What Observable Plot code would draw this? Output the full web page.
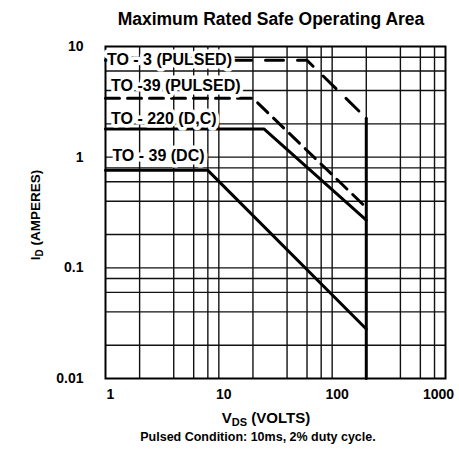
<!DOCTYPE html>
<html><head><meta charset="utf-8">
<script src="https://cdn.jsdelivr.net/npm/d3@7"></script>
<script src="https://cdn.jsdelivr.net/npm/@observablehq/plot@0.6"></script>
<style>body{margin:0;background:#fff} svg{display:block}</style>
</head><body><div id="chart"></div>
<script>
const xTicks = [1, 10, 100];
const xTickLast = [1000];
const yTicks = [0.01, 0.1, 1, 10];
const xGrid = [2, 4, 6, 8, 10, 20, 40, 60, 80, 100, 200, 400, 600, 800];
const yGrid = [0.02, 0.04, 0.06, 0.08, 0.1, 0.2, 0.4, 0.6, 0.8, 1, 2, 4, 6, 8];
const to3Pulsed = [[1, 7.5], [60, 7.5], [200, 2.25]];
const to39Pulsed = [[1, 3.4], [20, 3.4], [200, 0.35]];
const to220DC = [[1, 1.8], [25, 1.8], [200, 0.27]];
const to39DC = [[1, 0.76], [8, 0.76], [200, 0.028]];
const limit200V = [[200, 2.25], [200, 0.01]];
const labelText = ["TO - 3 (PULSED)", "TO -39 (PULSED)", "TO - 220 (D,C)", "TO - 39 (DC)"];
const labelV = [1.03, 1.12, 1.12, 1.15];
const labelI = [7.5, 4.4, 2.2, 1.03];

const FONT = "'Liberation Sans', Arial, Helvetica, sans-serif";
const X = d => d[0], Y = d => d[1];

const plot = Plot.plot({
  width: 459, height: 453,
  marginLeft: 105, marginRight: 14, marginTop: 46, marginBottom: 75,
  style: {fontFamily: FONT, background: "#fff", color: "#000"},
  x: {type: "log", domain: [1, 1000]},
  y: {type: "log", domain: [0.01, 10]},
  marks: [
    Plot.ruleX(xGrid, {stroke: "#111", strokeWidth: 1.4}),
    Plot.ruleY(yGrid, {stroke: "#111", strokeWidth: 1.4}),
    Plot.frame({stroke: "#000", strokeWidth: 2}),
    Plot.axisX(xTicks, {tickSize: 0, tickPadding: 11, dx: 5, fontSize: 14, fontWeight: "bold", label: null, tickFormat: d => String(d)}),
    Plot.axisX(xTickLast, {tickSize: 0, tickPadding: 11, dx: -7, fontSize: 14, fontWeight: "bold", label: null, tickFormat: d => String(d)}),
    Plot.axisY(yTicks, {tickSize: 0, tickPadding: 22, fontSize: 14, fontWeight: "bold", label: null, tickFormat: d => String(d)}),
    Plot.line(to3Pulsed, {x: X, y: Y, stroke: "#000", strokeWidth: 3, strokeDasharray: "18,14"}),
    Plot.line(to39Pulsed, {x: X, y: Y, stroke: "#000", strokeWidth: 3, strokeDasharray: "14,8"}),
    Plot.line(to220DC, {x: X, y: Y, stroke: "#000", strokeWidth: 3}),
    Plot.line(to39DC, {x: X, y: Y, stroke: "#000", strokeWidth: 3}),
    Plot.line(limit200V, {x: X, y: Y, stroke: "#000", strokeWidth: 3}),
    Plot.text(labelText, {x: (d, i) => labelV[i], y: (d, i) => labelI[i], text: d => d,
      textAnchor: "start", fontSize: 16, fontWeight: "bold", fill: "#000",
      stroke: "white", strokeWidth: 7, strokeLinejoin: "round", paintOrder: "stroke"})
  ]
});
document.getElementById("chart").append(plot);

const svg = d3.select(plot);
svg.append("text").attr("x", 271).attr("y", 25).attr("text-anchor", "middle")
  .attr("font-family", FONT).attr("font-size", 17.5).attr("font-weight", "bold")
  .text("Maximum Rated Safe Operating Area");

const xl = svg.append("text").attr("x", 266).attr("y", 423).attr("text-anchor", "middle")
  .attr("font-family", FONT).attr("font-size", 15).attr("font-weight", "bold");
xl.append("tspan").text("V");
xl.append("tspan").attr("font-size", 11).attr("dy", 3).text("DS");
xl.append("tspan").attr("dy", -3).text(" (VOLTS)");

svg.append("text").attr("x", 258).attr("y", 441).attr("text-anchor", "middle")
  .attr("font-family", FONT).attr("font-size", 12.5).attr("font-weight", "bold")
  .text("Pulsed Condition: 10ms, 2% duty cycle.");

const yl = svg.append("text").attr("transform", "translate(40,215) rotate(-90)").attr("text-anchor", "middle")
  .attr("font-family", FONT).attr("font-size", 13.5).attr("font-weight", "bold");
yl.append("tspan").text("I");
yl.append("tspan").attr("font-size", 10).attr("dy", 3).text("D");
yl.append("tspan").attr("dy", -3).text(" (AMPERES)");
</script>
</body></html>
